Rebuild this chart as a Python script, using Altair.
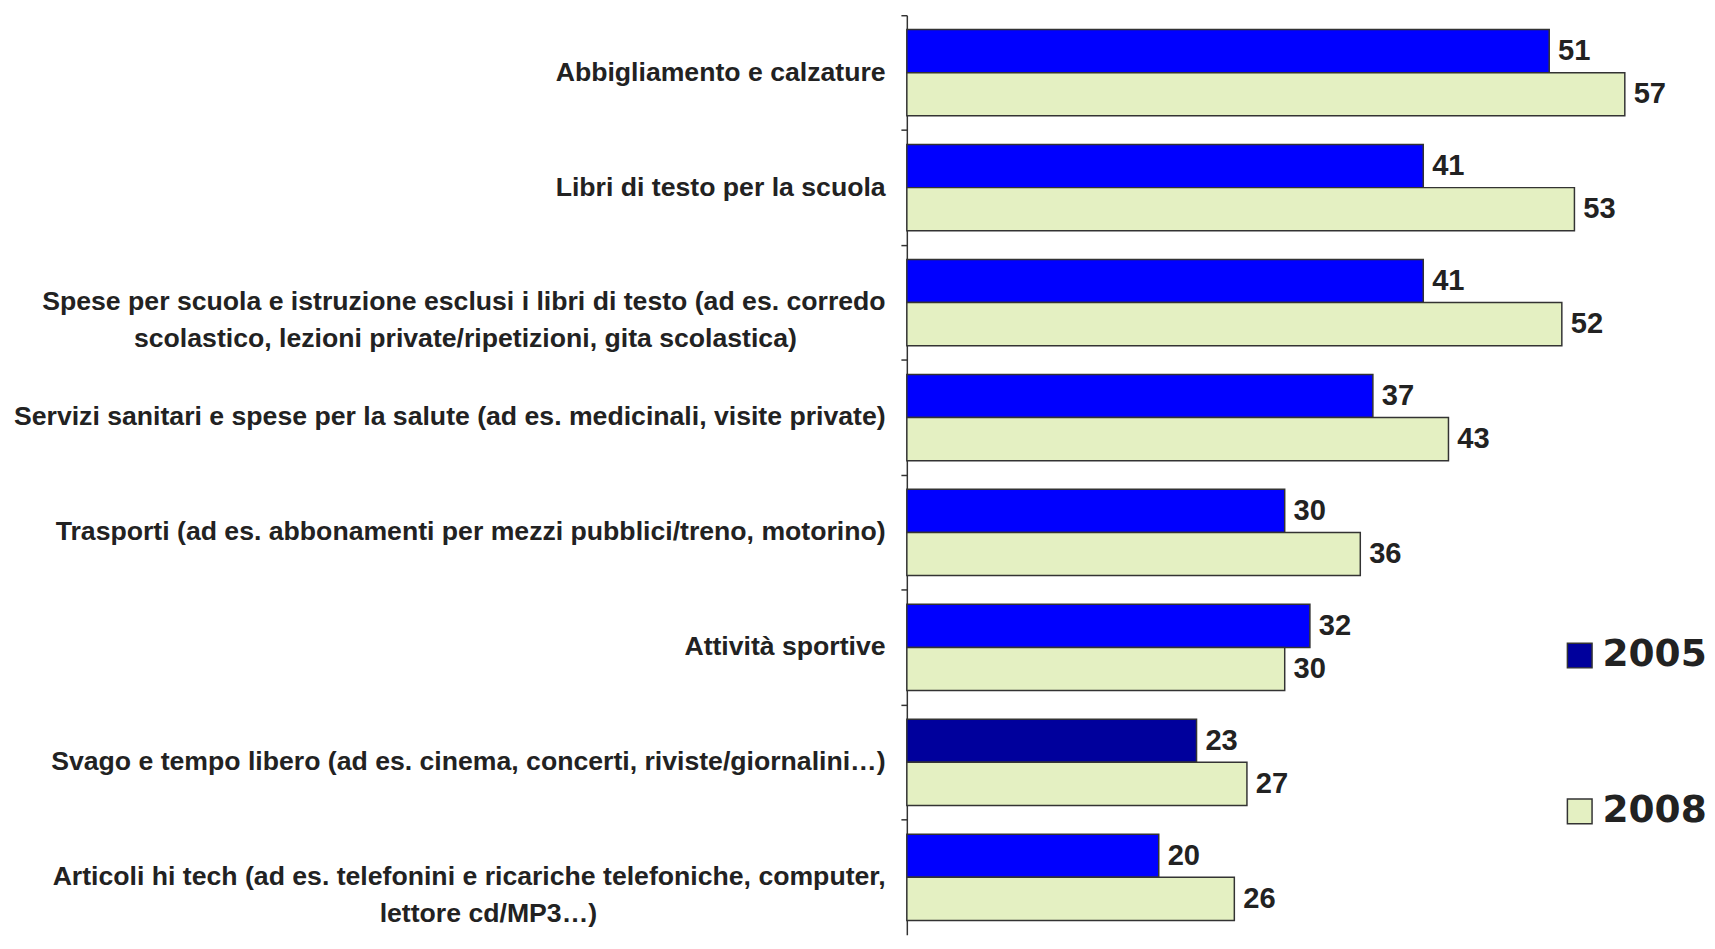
import altair as alt
import pandas as pd

categories = [
    "Abbigliamento e calzature",
    "Libri di testo per la scuola",
    "Spese per scuola e istruzione esclusi i libri di testo (ad es. corredo\nscolastico, lezioni private/ripetizioni, gita scolastica)",
    "Servizi sanitari e spese per la salute (ad es. medicinali, visite private)",
    "Trasporti (ad es. abbonamenti per mezzi pubblici/treno, motorino)",
    "Attività sportive",
    "Svago e tempo libero (ad es. cinema, concerti, riviste/giornalini…)",
    "Articoli hi tech (ad es. telefonini e ricariche telefoniche, computer,\nlettore cd/MP3…)",
]
v2005 = [51, 41, 41, 37, 30, 32, 23, 20]
v2008 = [57, 53, 52, 43, 36, 30, 27, 26]
series = ["2005", "2008"]

# trailing non-breaking spaces (kept by a zero-width space) to centre line 2
line2_pad = {2: 12, 7: 39}
NBSP = "\u00a0"
ZWSP = "\u200b"

def label_of(i, c):
    if "\n" in c:
        a, b = c.split("\n")
        return a + "\n" + b + NBSP * line2_pad.get(i, 0) + ZWSP
    return c

labels = [label_of(i, c) for i, c in enumerate(categories)]

fill_2005 = ["#0000FF"] * len(categories)
fill_2005[6] = "#00009C"
fill_2008 = "#E4F0C2"

rows = []
for i, lab in enumerate(labels):
    rows.append({"cat": lab, "series": "2005", "value": v2005[i], "fill": fill_2005[i]})
    rows.append({"cat": lab, "series": "2008", "value": v2008[i], "fill": fill_2008})
df = pd.DataFrame(rows)

y_enc = alt.Y(
    "cat:N",
    sort=labels,
    title=None,
    scale=alt.Scale(paddingInner=0, paddingOuter=0),
    axis=alt.Axis(
        labelExpr="split(datum.value, '\\n')",
        labelFont="Liberation Sans",
        labelFontWeight="bold",
        labelFontSize=27,
        labelColor="#222222",
        labelAlign="right",
        labelPadding=16,
        labelLineHeight=37,
        labelLimit=1000,
        bandPosition=0,
        tickSize=6,
        tickColor="#333333",
        tickWidth=1.5,
        domainColor="#333333",
        domainWidth=1.5,
        grid=False,
    ),
)
yoff = alt.YOffset("series:N", sort=series, scale=alt.Scale(paddingInner=0, paddingOuter=0.333))
x_enc = alt.X("value:Q", scale=alt.Scale(domain=[0, 60]), axis=None)

bars = alt.Chart(df).mark_bar(stroke="#333333", strokeWidth=1.5).encode(
    x=x_enc,
    y=y_enc,
    yOffset=yoff,
    fill=alt.Fill("fill:N", scale=None),
)

texts = alt.Chart(df).mark_text(
    align="left", baseline="middle", dx=9, font="Liberation Sans",
    fontWeight="bold", fontSize=29.5, color="#222222"
).encode(
    x=x_enc,
    y=alt.Y("cat:N", sort=labels),
    yOffset=yoff,
    text="value:Q",
)

legend_df = pd.DataFrame({"series": series, "zero": [0, 0], "cat": [labels[0]] * 2})
legend_layer = alt.Chart(legend_df).mark_bar(strokeWidth=0).encode(
    x=alt.X("zero:Q", scale=alt.Scale(domain=[0, 60])),
    y=alt.Y("cat:N", sort=labels),
    color=alt.Color(
        "series:N",
        sort=series,
        scale=alt.Scale(domain=series, range=["#00009C", fill_2008]),
        legend=alt.Legend(
            title=None,
            orient="none",
            legendX=663,
            legendY=630,
            symbolType="square",
            symbolSize=625,
            symbolStrokeColor="#333333",
            symbolStrokeWidth=1.5,
            labelFont="DejaVu Sans",
            labelFontWeight="bold",
            labelFontSize=38,
            labelColor="#222222",
            rowPadding=120,
            labelOffset=4,
        ),
    ),
)

chart = alt.layer(bars, texts, legend_layer).properties(
    width=766, height=932, padding={"left": 5, "top": 0, "right": 0, "bottom": 0}
).configure_view(stroke=None)

chart.save("out.html", embed_options={"renderer": "svg", "actions": False})
